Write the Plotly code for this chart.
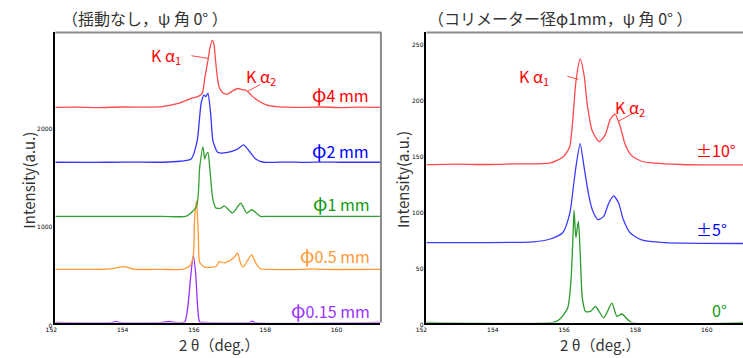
import plotly.graph_objects as go

W, H = 743, 358

# ---------------- data (2θ in deg, intensity in a.u.) ----------------
# Left panel: no oscillation, ψ = 0°
l_red_x = [152.0, 152.6, 153.2, 153.9, 154.5, 155.0, 155.45, 155.81, 156.01, 156.12, 156.19, 156.28, 156.33,
           156.40, 156.45, 156.49, 156.55, 156.60, 156.70, 156.83, 156.95, 157.11, 157.25, 157.36, 157.50,
           157.66, 157.94, 158.2, 158.5, 159.0, 159.5, 160.0, 160.5, 161.12]
l_red_y = [2188, 2190, 2186, 2192, 2190, 2196, 2228, 2280, 2300, 2330, 2480, 2663, 2780,
           2870, 2830, 2680, 2480, 2390, 2335, 2323, 2350, 2380, 2368, 2360, 2310,
           2263, 2210, 2195, 2190, 2188, 2192, 2186, 2190, 2188]

l_blue_x = [152.0, 153.0, 154.0, 155.0, 155.5, 155.81, 155.98, 156.09, 156.17, 156.22, 156.28, 156.36, 156.42,
            156.56, 156.83, 157.11, 157.28, 157.43, 157.62, 157.85, 158.5, 159.0, 159.5, 160.0, 161.12]
l_blue_y = [1630, 1628, 1632, 1630, 1640, 1663, 1850, 2230, 2313, 2297, 2330, 2113, 1850,
            1730, 1730, 1763, 1807, 1747, 1663, 1630, 1632, 1628, 1632, 1630, 1630]

l_green_x = [152.0, 155.0, 155.68, 155.96, 156.05, 156.14, 156.19, 156.22, 156.28, 156.33, 156.42, 156.51,
             156.65, 156.74, 156.97, 157.20, 157.37, 157.51, 157.75, 158.0, 161.12]
l_green_y = [1080, 1080, 1082, 1180, 1580, 1787, 1663, 1700, 1730, 1580, 1250, 1163,
             1163, 1187, 1113, 1213, 1113, 1147, 1080, 1080, 1080]

l_orange_x = [152.0, 153.0, 153.52, 153.93, 154.2, 155.0, 155.59, 155.78, 155.87, 155.91, 155.96, 156.01,
              156.05, 156.19, 156.51, 156.60, 156.74, 156.88, 157.02, 157.11, 157.20, 157.27, 157.39,
              157.51, 157.62, 157.75, 157.94, 159.0, 159.2, 159.4, 161.12]
l_orange_y = [540, 540, 545, 568, 542, 540, 542, 580, 680, 1080, 1237, 913,
              613, 563, 570, 620, 606, 627, 663, 707, 597, 563, 630,
              687, 606, 547, 540, 540, 545, 540, 540]

l_purple_x = [152.0, 153.6, 153.7, 153.8, 155.0, 155.2, 155.4, 155.63, 155.72, 155.80, 155.87, 155.94,
              155.99, 156.05, 156.2, 157.45, 157.52, 157.6, 161.12]
l_purple_y = [0, 0, 12, 0, 0, 10, 0, 5, 170, 480, 680, 480,
              170, 5, 0, 0, 15, 0, 0]

# Right panel: collimator φ1 mm, ψ = 0°
r_red_x = [152.0, 152.8, 153.61, 154.5, 155.45, 155.82, 156.01, 156.10, 156.19, 156.31, 156.42, 156.51,
           156.65, 156.85, 157.02, 157.15, 157.29, 157.43, 157.57, 157.75, 158.03, 158.40, 159.14,
           160.0, 160.88]
r_red_y = [141.0, 141.5, 141.2, 141.8, 142.4, 147.6, 156.4, 179.9, 215.0, 235.5, 220.8, 194.5,
           171.1, 161.7, 168.1, 181.3, 186.3, 175.5, 159.3, 149.1, 144.1, 142.4, 141.2,
           140.8, 140.9]

r_blue_x = [152.0, 153.61, 155.0, 155.45, 155.82, 156.02, 156.12, 156.19, 156.31, 156.42, 156.54, 156.65,
            156.81, 156.97, 157.11, 157.25, 157.39, 157.52, 157.71, 158.03, 158.67, 160.88]
r_blue_y = [71.4, 71.4, 72.1, 74.4, 80.2, 97.8, 121.3, 138.8, 159.9, 138.8, 115.4, 100.8,
            92.0, 94.9, 106.6, 113.1, 106.6, 92.0, 80.2, 73.8, 71.4, 70.6]

r_green_x = [152.0, 155.54, 155.73, 155.96, 156.05, 156.12, 156.14, 156.19, 156.26, 156.31, 156.37, 156.46,
             156.60, 156.74, 156.97, 157.20, 157.34, 157.48, 157.75, 160.88]
r_green_y = [0, 0, 2.6, 12.9, 36.3, 86.1, 100.2, 75.8, 90.5, 62.7, 21.7, 9.9,
             9.9, 14.3, 4.1, 17.3, 5.5, 7.6, 0, 0]

x_ticks = [152, 154, 156, 158, 160]
l_y_ticks = [0, 1000, 2000]
r_y_ticks = [0, 50, 100, 150, 200, 250]

FONT = "Noto Sans CJK JP, Liberation Sans, sans-serif"

def px(x):
    return x / W

def py(y):
    return 1 - y / H

fig = go.Figure()

def add(xs, ys, color, ax):
    fig.add_trace(go.Scatter(x=xs, y=ys, mode="lines", xaxis="x" if ax == 1 else "x2",
                             yaxis="y" if ax == 1 else "y2",
                             line=dict(color=color, width=1.3, shape="spline", smoothing=0.6),
                             hoverinfo="skip", showlegend=False))

add(l_purple_x, l_purple_y, "#9b30ff", 1)
add(l_orange_x, l_orange_y, "#ff9a33", 1)
add(l_green_x, l_green_y, "#33a033", 1)
add(l_blue_x, l_blue_y, "#3535ff", 1)
add(l_red_x, l_red_y, "#ff4a4a", 1)

add(r_green_x, r_green_y, "#2a9a2a", 2)
add(r_blue_x, r_blue_y, "#3c3cff", 2)
add(r_red_x, r_red_y, "#ff4a4a", 2)

ydom = [30 / H, 1 - 33 / H]
tickfont = dict(family="DejaVu Sans", size=6, color="#000")

axis_common = dict(showgrid=False, zeroline=False, ticks="", showline=True, linecolor="#000",
                   linewidth=1.5, tickfont=tickfont, fixedrange=True)

fig.update_layout(
    width=W, height=H, margin=dict(l=0, r=0, t=0, b=0),
    paper_bgcolor="white", plot_bgcolor="white",
    xaxis=dict(domain=[px(45), px(375)], range=[152, 161.12], tickvals=x_ticks, anchor="y",
               layer="above traces", ticklabelshift=-4, ticklabelstandoff=1, **axis_common),
    yaxis=dict(domain=ydom, range=[0, 2950], tickvals=l_y_ticks, anchor="x",
               layer="above traces", ticklabelshift=3, **axis_common),
    xaxis2=dict(domain=[px(421.7), 1.0], range=[152, 160.876], tickvals=x_ticks, anchor="y2",
                layer="below traces", ticklabelshift=-5, ticklabelstandoff=1, **axis_common),
    yaxis2=dict(domain=ydom, range=[0, 259.2], tickvals=r_y_ticks, anchor="x2",
                layer="below traces", ticklabelshift=2, **axis_common),
)

# gray frame (top / right)
shapes = [
    dict(type="line", xref="paper", yref="paper", x0=px(45), x1=px(376), y0=py(33), y1=py(33),
         line=dict(color="#8a8a8a", width=2)),
    dict(type="line", xref="paper", yref="paper", x0=px(375.5), x1=px(375.5), y0=py(33), y1=py(328),
         line=dict(color="#8a8a8a", width=2)),
    dict(type="line", xref="paper", yref="paper", x0=px(421.7), x1=1.0, y0=py(33), y1=py(33),
         line=dict(color="#8a8a8a", width=2)),
    # leader lines
    dict(type="line", xref="x", yref="y", x0=155.82, y0=2713, x1=156.28, y1=2687,
         line=dict(color="#ff4a4a", width=1)),
    dict(type="line", xref="x", yref="y", x0=157.40, y0=2353, x1=157.75, y1=2420,
         line=dict(color="#ff4a4a", width=1)),
    dict(type="line", xref="x2", yref="y2", x0=155.95, y0=220, x1=156.26, y1=217.3,
         line=dict(color="#ff4a4a", width=1)),
    dict(type="line", xref="x2", yref="y2", x0=157.39, y0=179.9, x1=157.80, y1=187.2,
         line=dict(color="#ff4a4a", width=1)),
]
fig.update_layout(shapes=shapes)

ann = []

def text(x, y, s, size, color, xanchor="left", angle=0):
    ann.append(dict(x=px(x), y=py(y), xref="paper", yref="paper", text=s, showarrow=False,
                    xanchor=xanchor, yanchor="middle", textangle=angle,
                    font=dict(family=FONT, size=size, color=color)))

PHI = '<span style="font-size:19px">φ</span>'

# titles
text(50, 18, "（揺動なし，ψ 角 0° ）", 16, "#333")
text(421, 18, "（コリメーター径φ1mm，ψ 角 0° ）", 16, "#333")
# axis titles
text(18, 183, "Intensity(a.u.)", 15, "#333", "center", -90)
text(398, 183, "Intensity(a.u.)", 15, "#333", "center", -90)
text(212, 350, "2 θ（deg.）", 15, "#333", "center")
text(598, 350, "2 θ（deg.）", 15, "#333", "center")
# Kα labels
text(140, 56, "K α<sub>1</sub>", 16, "#ff0000")
text(236, 78, "K α<sub>2</sub>", 16, "#ff0000")
text(514, 78, "K α<sub>1</sub>", 16, "#ff0000")
text(611, 109, "K α<sub>2</sub>", 16, "#ff0000")
# series labels
text(365, 95, PHI + "4 mm", 16, "#ff0000", "right")
text(365, 152, PHI + "2 mm", 16, "#0000ff", "right")
text(366, 206, PHI + "1 mm", 16, "#119911", "right")
text(366, 259, PHI + "0.5 mm", 16, "#ff9933", "right")
text(366, 315, PHI + "0.15 mm", 16, "#9933ff", "right")
text(738, 153, "±10°", 16, "#ff0000", "right")
text(729, 233, "±5°", 16, "#0000ff", "right")
text(729, 315, "0°", 16, "#119911", "right")

fig.update_layout(annotations=ann)

fig.write_html("out.html", config={"displayModeBar": False},
               post_script="document.body.style.margin='0';document.body.style.padding='0';")
